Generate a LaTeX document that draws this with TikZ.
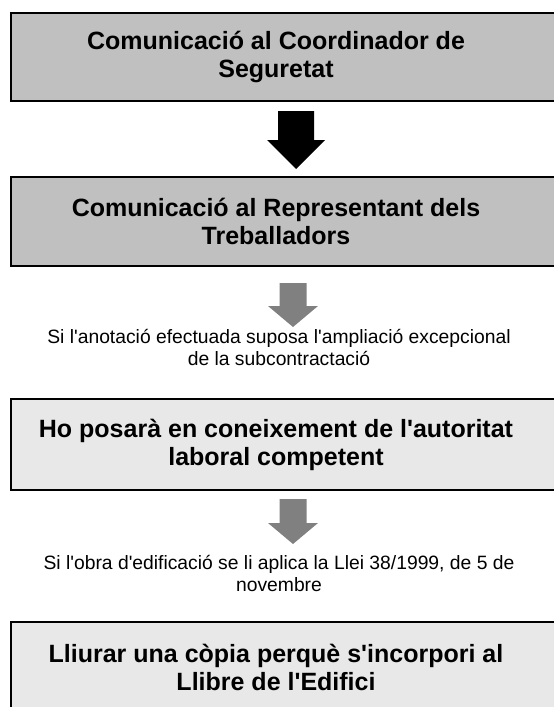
\documentclass[tikz,border=0pt]{standalone}
\usepackage{fontspec}
\setmainfont{Liberation Sans}
\usetikzlibrary{calc}
\definecolor{boxdark}{HTML}{C0C0C0}
\definecolor{boxlight}{HTML}{E8E8E8}
\definecolor{arrowgray}{HTML}{808080}
\newcommand{\ap}{\textquotesingle}
\begin{document}
\begin{tikzpicture}[x=1pt,y=-1pt,
  box/.style={draw=black, line width=2pt, minimum width=546pt, inner sep=0pt},
  darkbox/.style={box, fill=boxdark},
  lightbox/.style={box, fill=boxlight},
  boxtext/.style={align=center, inner sep=0pt, xshift=-8pt,
    font=\bfseries\fontsize{25}{28}\selectfont},
  note/.style={align=center, font=\fontsize{19.3}{22}\selectfont, inner sep=0pt},
  bigarrow/.style={fill=black},
  smallarrow/.style={fill=arrowgray}]
\useasboundingbox (0,0) rectangle (554,707);
\node[darkbox, minimum height=88pt] (b1) at (284,57) {};
\node[boxtext] (t1) at (b1.center) {Comunicació al Coordinador de\\Seguretat};
\node[darkbox, minimum height=89pt] (b2) at (284,221.5) {};
\node[boxtext] (t2) at (b2.center) {Comunicació al Representant dels\\Treballadors};
\node[lightbox, minimum height=91pt] (b3) at (284,444.5) {};
\node[boxtext] (t3) at (b3.center) {Ho posarà en coneixement de l\ap autoritat\\laboral competent};
\node[lightbox, minimum height=90pt] (b4) at (284,667) {};
\node[boxtext] (t4) at (b4.center) {Lliurar una còpia perquè s\ap incorpori al\\Llibre de l\ap Edifici};
\node[note] (n1) at (279,347) {Si l\ap anotació efectuada suposa l\ap ampliació excepcional\\de la subcontractació};
\node[note] (n2) at (279,573) {Si l\ap obra d\ap edificació se li aplica la Llei 38/1999, de 5 de\\novembre};
% block arrows
\coordinate (a1) at ($(b1.south)+(12,9)$);
\fill[bigarrow] (a1) ++(-18,0) -- ++(36,0) -- ++(0,29) -- ++(11,0) -- ++(-29,29) -- ++(-29,-29) -- ++(11,0) -- cycle;
\coordinate (a2) at ($(b2.south)+(9,16)$);
\fill[smallarrow] (a2) ++(-13.5,0) -- ++(27,0) -- ++(0,23) -- ++(11.5,0) -- ++(-25,21) -- ++(-25,-21) -- ++(11.5,0) -- cycle;
\coordinate (a3) at ($(b3.south)+(9,8)$);
\fill[smallarrow] (a3) ++(-13.5,0) -- ++(27,0) -- ++(0,24) -- ++(11.5,0) -- ++(-25,21) -- ++(-25,-21) -- ++(11.5,0) -- cycle;
\end{tikzpicture}
\end{document}
